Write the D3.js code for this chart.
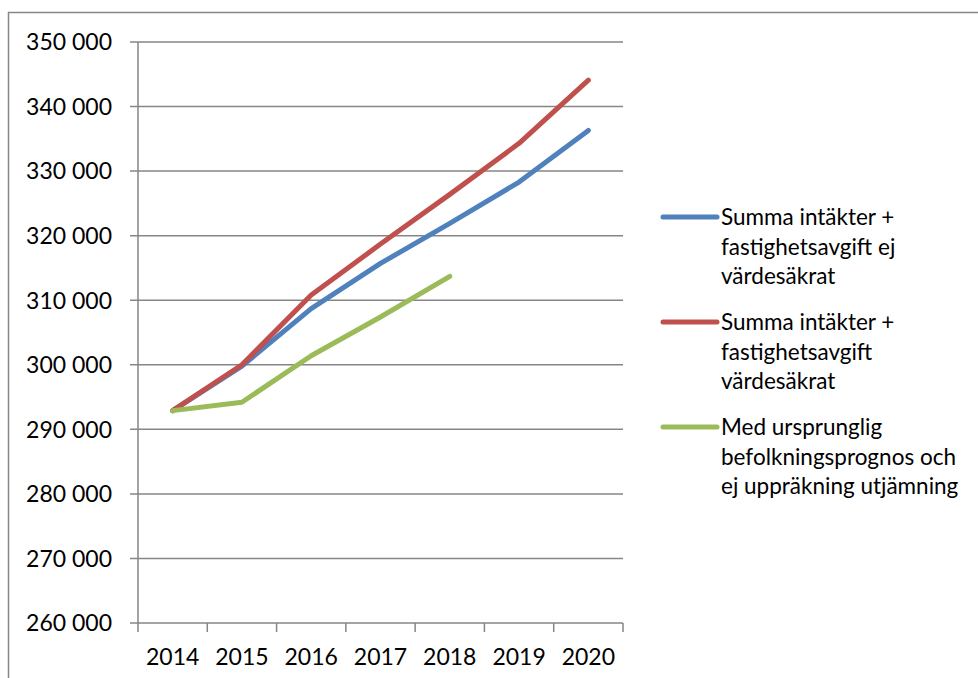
<!DOCTYPE html>
<html><head><meta charset="utf-8">
<script src="https://cdn.jsdelivr.net/npm/d3@7"></script>
<style>
html,body{margin:0;padding:0;background:#fff;}
svg{display:block;font-family:Lato,"Open Sans",sans-serif;}
</style></head>
<body>
<svg id="chart" width="978" height="678"></svg>
<script>
const years = ["2014","2015","2016","2017","2018","2019","2020"];
const blueValues  = [292900, 299800, 308700, 315700, 321900, 328300, 336300];
const redValues   = [292900, 300000, 310800, 318700, 326400, 334300, 344100];
const greenValues = [292900, 294200, 301400, 307400, 313700, null, null];
const yTicks = [260000,270000,280000,290000,300000,310000,320000,330000,340000,350000];
const seriesNames = [
  ["Summa intäkter +","fastighetsavgift ej","värdesäkrat"],
  ["Summa intäkter +","fastighetsavgift","värdesäkrat"],
  ["Med ursprunglig","befolkningsprognos och","ej uppräkning utjämning"]
];
const seriesColors = ["#4F81BD","#C0504D","#9BBB59"];
const series = [blueValues, redValues, greenValues];

const svg = d3.select("#chart");
const pLeft = 138, pRight = 623, pTop = 42, pBottom = 623;
const x = d3.scaleBand().domain(years).range([pLeft, pRight]);
const y = d3.scaleLinear().domain([260000, 350000]).range([pBottom, pTop]);
const grid = "#868686";

// outer frame
svg.append("rect").attr("x",8.5).attr("y",12.5).attr("width",1000).attr("height",1000)
  .attr("fill","none").attr("stroke",grid).attr("stroke-width",1.5);

// gridlines
svg.append("g").selectAll("line").data(yTicks).join("line")
  .attr("x1", pLeft - 8).attr("x2", pRight)
  .attr("y1", d => y(d)).attr("y2", d => y(d))
  .attr("stroke", grid).attr("stroke-width", 1.5);

// y axis line
svg.append("line").attr("x1",pLeft).attr("x2",pLeft).attr("y1",pTop).attr("y2",pBottom)
  .attr("stroke",grid).attr("stroke-width",1.5);

// x ticks (category boundaries)
const bounds = years.map(d => x(d)).concat([pRight]);
svg.append("g").selectAll("line").data(bounds).join("line")
  .attr("x1", d => d).attr("x2", d => d)
  .attr("y1", pBottom).attr("y2", pBottom + 9)
  .attr("stroke", grid).attr("stroke-width", 1.5);

const fmt = v => d3.format(",")(v).replace(/,/g, "\u00a0");
svg.append("g").selectAll("text").data(yTicks).join("text")
  .attr("x", 112).attr("y", d => y(d)).attr("dy","0.36em")
  .attr("text-anchor","end").attr("font-size",23).attr("fill","#000")
  .text(d => fmt(d));

svg.append("g").selectAll("text").data(years).join("text")
  .attr("x", d => x(d) + x.bandwidth()/2).attr("y", 657).attr("dy","0.36em")
  .attr("text-anchor","middle").attr("font-size",23).attr("fill","#000")
  .text(d => d);

const line = d3.line()
  .defined(d => d[1] != null)
  .x(d => x(d[0]) + x.bandwidth()/2)
  .y(d => y(d[1]));

series.forEach((vals, i) => {
  svg.append("path")
    .datum(years.map((yr, j) => [yr, vals[j]]))
    .attr("d", line)
    .attr("fill","none").attr("stroke", seriesColors[i])
    .attr("stroke-width", 5).attr("stroke-linecap","round").attr("stroke-linejoin","round");
});

// legend
const legendTops = [217, 322, 427];
seriesNames.forEach((lines, i) => {
  const g = svg.append("g");
  g.append("line").attr("x1",663).attr("x2",717)
    .attr("y1",legendTops[i]).attr("y2",legendTops[i])
    .attr("stroke",seriesColors[i]).attr("stroke-width",5).attr("stroke-linecap","round");
  lines.forEach((t, k) => {
    g.append("text").attr("x",721).attr("y",legendTops[i] + k*29.5).attr("dy","0.36em")
      .attr("font-size",22.5).attr("fill","#000").text(t);
  });
});
</script>
</body></html>
